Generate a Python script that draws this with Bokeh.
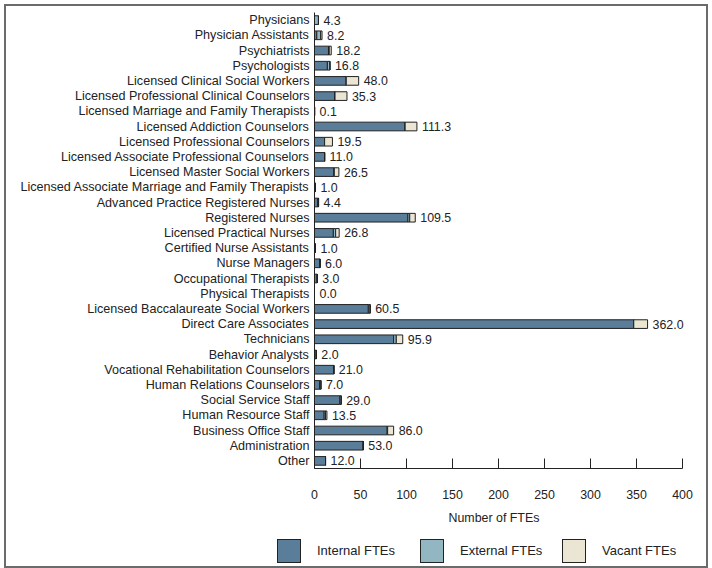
from bokeh.plotting import figure
from bokeh.layouts import column
from bokeh.models import ColumnDataSource, FactorRange, FixedTicker, Title, Div
from bokeh.core.properties import value
from bokeh.embed import file_html
from bokeh.resources import INLINE

categories = [
    "Physicians", "Physician Assistants", "Psychiatrists", "Psychologists",
    "Licensed Clinical Social Workers", "Licensed Professional Clinical Counselors",
    "Licensed Marriage and Family Therapists", "Licensed Addiction Counselors",
    "Licensed Professional Counselors", "Licensed Associate Professional Counselors",
    "Licensed Master Social Workers", "Licensed Associate Marriage and Family Therapists",
    "Advanced Practice Registered Nurses", "Registered Nurses", "Licensed Practical Nurses",
    "Certified Nurse Assistants", "Nurse Managers", "Occupational Therapists",
    "Physical Therapists", "Licensed Baccalaureate Social Workers", "Direct Care Associates",
    "Technicians", "Behavior Analysts", "Vocational Rehabilitation Counselors",
    "Human Relations Counselors", "Social Service Staff", "Human Resource Staff",
    "Business Office Staff", "Administration", "Other",
]
internal = [0.0, 2.5, 15.2, 14.0, 34.5, 22.3, 0.1, 98.5, 11.0, 11.0, 21.0, 1.0, 3.4, 101.5,
            20.5, 1.0, 6.0, 3.0, 0.0, 58.5, 347.0, 86.0, 2.0, 21.0, 5.5, 27.5, 10.5, 79.0, 53.0, 12.0]
external = [4.3, 4.2, 0.8, 2.8, 0.0, 0.0, 0.0, 0.0, 0.0, 0.0, 0.5, 0.0, 1.0, 2.0,
            2.5, 0.0, 0.0, 0.0, 0.0, 2.0, 0.0, 2.9, 0.0, 0.0, 1.5, 1.5, 1.5, 0.5, 0.0, 0.0]
vacant = [0.0, 1.5, 2.2, 0.0, 13.5, 13.0, 0.0, 12.8, 8.5, 0.0, 5.0, 0.0, 0.0, 6.0,
          3.8, 0.0, 0.0, 0.0, 0.0, 0.0, 15.0, 7.0, 0.0, 0.0, 0.0, 0.0, 1.5, 6.5, 0.0, 0.0]
totals = [4.3, 8.2, 18.2, 16.8, 48.0, 35.3, 0.1, 111.3, 19.5, 11.0, 26.5, 1.0, 4.4, 109.5,
          26.8, 1.0, 6.0, 3.0, 0.0, 60.5, 362.0, 95.9, 2.0, 21.0, 7.0, 29.0, 13.5, 86.0, 53.0, 12.0]
x_ticks = [0, 50, 100, 150, 200, 250, 300, 350, 400]
series = ["internal", "external", "vacant"]
series_names = ["Internal FTEs", "External FTEs", "Vacant FTEs"]
colors = ["#5a7d99", "#93b6c3", "#ebe5d3"]

source = ColumnDataSource(dict(
    cat=categories, internal=internal, external=external, vacant=vacant,
    total=totals, label=["%.1f" % t for t in totals],
))

FONT = "Liberation Sans"

p = figure(
    width=700, height=528, output_backend="svg", toolbar_location=None,
    y_range=FactorRange(*reversed(categories)), x_range=(0, 413),
    min_border_left=308, min_border_right=12, min_border_top=6, min_border_bottom=66,
)

p.hbar_stack(series, y="cat", height=0.57, color=colors,
             line_color="#222222", line_width=1, source=source)

p.text(x="total", y="cat", text="label", source=source, x_offset=5,
       text_baseline="middle", text_align="left", text_color="#222222",
       text_font=value(FONT), text_font_size="12.4px")

p.xgrid.visible = False
p.ygrid.visible = False
p.outline_line_color = None

xa = p.xaxis[0]
xa.ticker = FixedTicker(ticks=x_ticks)
xa.bounds = (0, 400)
xa.major_tick_in = 10
xa.major_tick_out = 0
xa.minor_tick_line_color = None
xa.axis_line_color = "#222222"
xa.major_tick_line_color = "#222222"
xa.major_label_standoff = 21
xa.major_label_text_font = FONT
xa.major_label_text_font_size = "12.4px"
xa.major_label_text_color = "#222222"

ya = p.yaxis[0]
ya.major_tick_in = 0
ya.major_tick_out = 0
ya.minor_tick_line_color = None
ya.axis_line_color = "#222222"
ya.major_label_standoff = 5
ya.major_label_text_font = FONT
ya.major_label_text_font_size = "12.6px"
ya.major_label_text_color = "#222222"

xtitle = Title(text="Number of FTEs", align="left", offset=134, standoff=14,
               text_font=FONT, text_font_style="normal", text_font_size="12.4px",
               text_color="#222222")
p.add_layout(xtitle, "below")

# legend strip (HTML keys + real text) under the chart
key_lefts = [271, 414, 556]
parts = []
for name, col, left in zip(series_names, colors, key_lefts):
    parts.append(
        '<span style="position:absolute;left:%dpx;top:5px;width:24px;height:24px;'
        'background:%s;border:1px solid #222222;"></span>' % (left, col))
    parts.append(
        '<span style="position:absolute;left:%dpx;top:9px;line-height:16px;'
        'white-space:nowrap;">%s</span>' % (left + 40, name))
html = ('<div style="position:relative;width:700px;height:32px;font-family:\'Liberation Sans\';'
        'font-size:13px;color:#222222;">' + "".join(parts) + '</div>')
legend_div = Div(text=html, width=700, height=32, margin=0)

layout = column(p, legend_div, spacing=0,
                styles={"border": "2px solid #6b6b6b", "margin": "4px"})

open("out.html", "w").write(file_html(layout, INLINE))
